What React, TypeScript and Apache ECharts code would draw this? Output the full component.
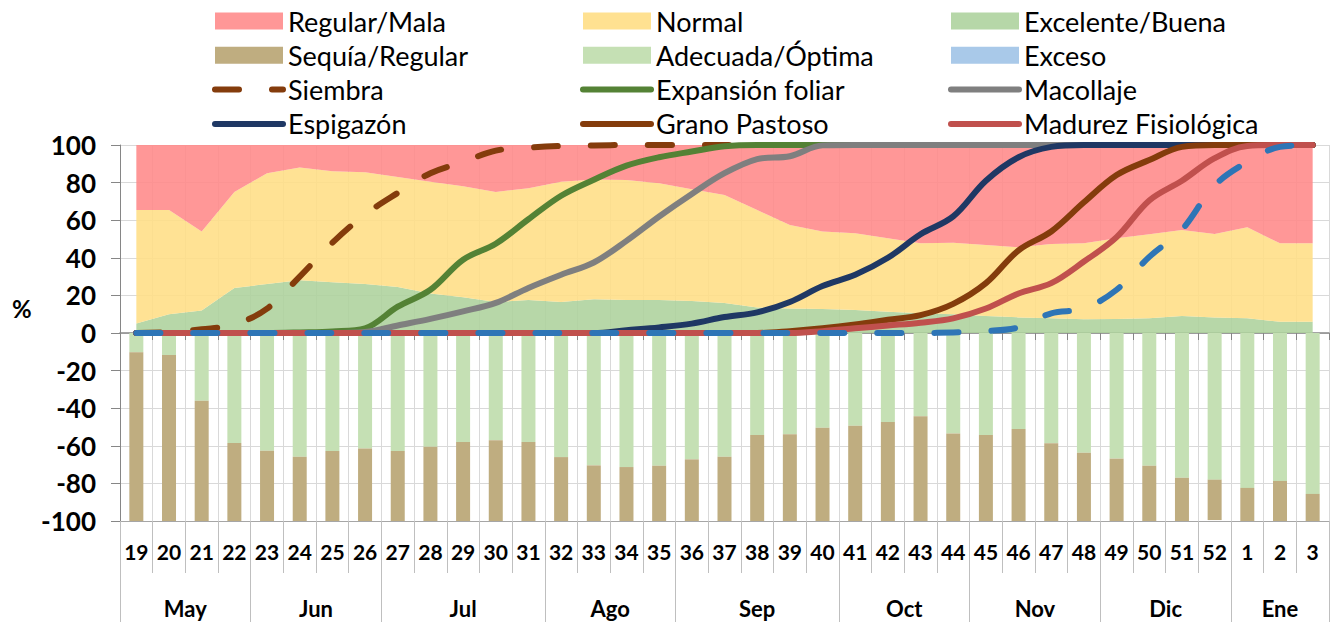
import React, { useEffect, useRef } from 'react';
import * as echarts from 'echarts';

const weeks = ['19','20','21','22','23','24','25','26','27','28','29','30','31','32','33','34','35','36','37','38','39','40','41','42','43','44','45','46','47','48','49','50','51','52','1','2','3'];
const months = ['May','Jun','Jul','Ago','Sep','Oct','Nov','Dic','Ene'];
const monthWeeks = [4,4,5,4,5,4,4,4,3];

// Condición de cultivos (%), apilado 0..100
const excelente = [5,10,12,24,26,28,27,26,24.5,21,19,16.5,17.5,16.5,18,17.5,17.5,17,16,13.5,13,12.8,12.2,11.3,10.5,10,9,8.3,7.8,7.3,7.4,7.8,9,8.3,7.8,6,6];
const normal = [60.4,55.4,42,51,59,60,59,59.5,58.5,59.5,59,58.5,59.5,64,63.7,63.9,62.1,59.4,57.4,51.9,44.4,41.2,40.8,39.1,37.2,38,37.8,37.3,39.5,40.4,43,44.7,45.8,44.4,48.4,41.7,41.7];
const regular = [34.6,34.6,46,25,15,12,14,14.5,17,19.5,22,25,23,19.5,18.3,18.6,20.4,23.6,26.6,34.6,42.6,46,47,49.6,52.3,52,53.2,54.4,52.7,52.3,49.6,47.5,45.2,47.3,43.8,52.3,52.3];

// Humedad del suelo (%), graficado hacia abajo
const adecuada = [10.3,11.7,36,58.5,62.6,65.8,62.8,61.5,62.8,60.5,58,57,58,66,70.4,71.3,70.6,67.2,65.8,54.3,53.9,50.4,49.3,47.3,44.3,53.5,54.3,51.1,58.7,63.7,66.8,70.6,77,78,82.4,78.7,85.6];
const sequia = [89.7,88.3,64,41.5,37.4,34.2,37.2,38.5,37.2,39.5,42,43,42,34,29.6,28.7,29.4,32.8,34.2,45.7,46.1,49.6,50.7,52.7,55.7,46.5,45.7,48.9,41.3,36.3,33.2,29.4,23,21.5,17.6,21.3,16];
const exceso = [0,0,0,0,0,0,0,0,0,0,0,0,0,0,0,0,0,0,0,0,0,0,0,0,0,0,0,0,0,0,0,0,0,0,0,0,0];

// Fenología (% acumulado)
const siembra = [0,0.5,2,4.5,13,30,48,63,74.5,85,91,97,98.6,99.5,99.8,100,100,100,100,100,100,100,100,100,100,100,100,100,100,100,100,100,100,100,100,100,100];
const expansion = [0,0,0,0,0,0.3,0.8,2.5,14,23,39,47.5,60.5,73,81.5,89,93.5,96.5,99.3,100,100,100,100,100,100,100,100,100,100,100,100,100,100,100,100,100,100];
const macollaje = [0,0,0,0,0,0,0,0.5,4,7.5,11.5,16,24,31,37.5,49,62,74,85,92.5,94,99.8,100,100,100,100,100,100,100,100,100,100,100,100,100,100,100];
const espigazon = [0,0,0,0,0,0,0,0,0,0,0,0,0,0,0,1.5,3,5,8.5,11,16.5,25,31,40,52.5,62,81,93.5,99,100,100,100,100,100,100,100,100];
const granoPastoso = [0,0,0,0,0,0,0,0,0,0,0,0,0,0,0,0,0,0,0,0,1,2.5,4.5,7,9.5,15.5,26.5,44,54,69.5,84,92,99,100,100,100,100];
const madurez = [0,0,0,0,0,0,0,0,0,0,0,0,0,0,0,0,0,0,0,0,0,1,2.5,4,5.5,7.8,13,21,26.5,38,51,70.5,81,93,99.5,100,100];
const cosecha = [0,0,0,0,0,0,0,0,0,0,0,0,0,0,0,0,0,0,0,0,0,0,0,0,0,0.3,1,3,10.5,13,23,40.5,55,78.5,91,99,100];

const yTicks = { min: -100, max: 100, interval: 20 };

const FONT = 'Lato';

const DASH = [24, 33];

export default function App() {
  const ref = useRef<HTMLDivElement>(null);
  useEffect(() => {
    if (!ref.current) return;
    const chart = echarts.init(ref.current, undefined, { renderer: 'svg' });

    // month axis: half-week points
    const halfCount = weeks.length * 2 + 1;
    const monthData: string[] = new Array(halfCount).fill('');
    const boundaries = new Set<number>();
    let start = 0;
    boundaries.add(0);
    months.forEach((m, i) => {
      const span = monthWeeks[i] * 2;
      monthData[start + span / 2] = m;
      start += span;
      boundaries.add(start);
    });

    const lineColors: Record<string, string> = {
      'Siembra': '#843C0C',
      'Expansión foliar': '#548235',
      'Macollaje': '#7F7F7F',
      'Espigazón': '#1F3864',
      'Grano Pastoso': '#843C0C',
      'Madurez Fisiológica': '#C0504D',
      'Cosecha': '#2E75B6',
    };

    const lineBase = (name: string, data: number[], dashed?: number[]) => {
      const color = lineColors[name];
      return {
        name,
        type: 'line',
        data,
        symbol: 'none',
        smooth: 0.35,
        color,
        lineStyle: { color, width: 6, type: dashed ? dashed : 'solid', cap: 'round', join: 'round' },
        z: 3,
      };
    };

    const areaBase = (name: string, data: number[], color: string) => ({
      name,
      type: 'line',
      stack: 'cond',
      data,
      symbol: 'none',
      color,
      lineStyle: { width: 0 },
      areaStyle: { color, opacity: 0.88 },
      z: 1,
    });

    const barBase = (name: string, data: number[], color: string) => ({
      name,
      type: 'bar',
      stack: 'hum',
      data: data.map((v) => -v),
      barWidth: 14,
      itemStyle: { color },
      color,
      z: 1,
    });

    const lineLegend = (name: string, dashed?: number[]) => ({
      name,
      itemStyle: { opacity: 0 },
      lineStyle: { color: lineColors[name], width: 6, type: dashed ? dashed : 'solid', cap: 'round', opacity: 1 },
    });

    const legendCommon = {
      orient: 'vertical',
      top: 7,
      padding: 0,
      itemGap: 6.3,
      itemWidth: 68,
      itemHeight: 17,
      selectedMode: false,
      textStyle: { fontFamily: FONT, fontSize: 27, color: '#000', lineHeight: 28 },
    };

    const option: any = {
      animation: false,
      backgroundColor: '#fff',
      grid: { left: 120, top: 145, width: 1221, height: 376 },
      legend: [
        {
          ...legendCommon,
          left: 212,
          data: [
            { name: 'Regular/Mala', icon: 'rect', itemStyle: { color: '#FF9797' } },
            { name: 'Sequía/Regular', icon: 'rect', itemStyle: { color: '#BFAD80' } },
            lineLegend('Siembra', DASH),
            lineLegend('Espigazón'),
          ],
        },
        {
          ...legendCommon,
          left: 580,
          data: [
            { name: 'Normal', icon: 'rect', itemStyle: { color: '#FFE191' } },
            { name: 'Adecuada/Óptima', icon: 'rect', itemStyle: { color: '#C5E0B4' } },
            lineLegend('Expansión foliar'),
            lineLegend('Grano Pastoso'),
          ],
        },
        {
          ...legendCommon,
          left: 948,
          data: [
            { name: 'Excelente/Buena', icon: 'rect', itemStyle: { color: '#B6D7A8' } },
            { name: 'Exceso', icon: 'rect', itemStyle: { color: '#A9C9E9' } },
            lineLegend('Macollaje'),
            lineLegend('Madurez Fisiológica'),
          ],
        },
      ],
      graphic: [
        {
          type: 'text',
          left: 12,
          top: 296,
          style: { text: '%', fontFamily: FONT, fontSize: 24, fontWeight: 'bold', fill: '#000' },
        },
      ],
      xAxis: [
        {
          type: 'category',
          data: weeks,
          position: 'bottom',
          boundaryGap: true,
          axisLine: { onZero: false, lineStyle: { color: '#A6A6A6' } },
          axisTick: { show: true, interval: 0, length: 52, lineStyle: { color: '#BFBFBF' } },
          axisLabel: { interval: 0, margin: 20, fontFamily: FONT, fontSize: 21, fontWeight: 'bold', color: '#000' },
          splitLine: { show: true, interval: 0, lineStyle: { color: '#D9D9D9' } },
        },
        {
          type: 'category',
          data: monthData,
          position: 'bottom',
          boundaryGap: false,
          axisLine: { show: false, onZero: false },
          axisTick: {
            show: true,
            length: 101,
            interval: (idx: number) => boundaries.has(idx),
            lineStyle: { color: '#BFBFBF' },
          },
          axisLabel: { interval: 0, margin: 76, fontFamily: FONT, fontSize: 22, fontWeight: 'bold', color: '#000' },
          splitLine: { show: false },
        },
        {
          type: 'category',
          data: weeks,
          position: 'bottom',
          boundaryGap: true,
          axisLine: { show: true, onZero: true, onZeroAxisIndex: 0, lineStyle: { color: '#868686', width: 1.5 } },
          axisTick: { show: true, interval: 0, length: 7, lineStyle: { color: '#868686' } },
          axisLabel: { show: false },
          splitLine: { show: false },
        },
      ],
      yAxis: {
        type: 'value',
        min: yTicks.min,
        max: yTicks.max,
        interval: yTicks.interval,
        axisLine: { show: true, lineStyle: { color: '#868686' } },
        axisTick: { show: true, length: 9, lineStyle: { color: '#868686' } },
        axisLabel: { margin: 24, fontFamily: FONT, fontSize: 26, fontWeight: 'bold', color: '#000' },
        splitLine: { show: true, lineStyle: { color: '#D9D9D9' } },
      },
      series: [
        areaBase('Excelente/Buena', excelente, '#ADD29C'),
        areaBase('Normal', normal, '#FFDE85'),
        areaBase('Regular/Mala', regular, '#FF8989'),
        barBase('Adecuada/Óptima', adecuada, '#C5E0B4'),
        barBase('Sequía/Regular', sequia, '#BFAD80'),
        barBase('Exceso', exceso, '#A9C9E9'),
        lineBase('Siembra', siembra, DASH),
        lineBase('Expansión foliar', expansion),
        lineBase('Macollaje', macollaje),
        lineBase('Espigazón', espigazon),
        lineBase('Grano Pastoso', granoPastoso),
        lineBase('Madurez Fisiológica', madurez),
        lineBase('Cosecha', cosecha, DASH),
      ],
    };

    chart.setOption(option);
    return () => chart.dispose();
  }, []);

  return (
    <div
      ref={ref}
      style={{ position: 'absolute', left: 0, top: 0, width: 1332, height: 622 }}
    />
  );
}
